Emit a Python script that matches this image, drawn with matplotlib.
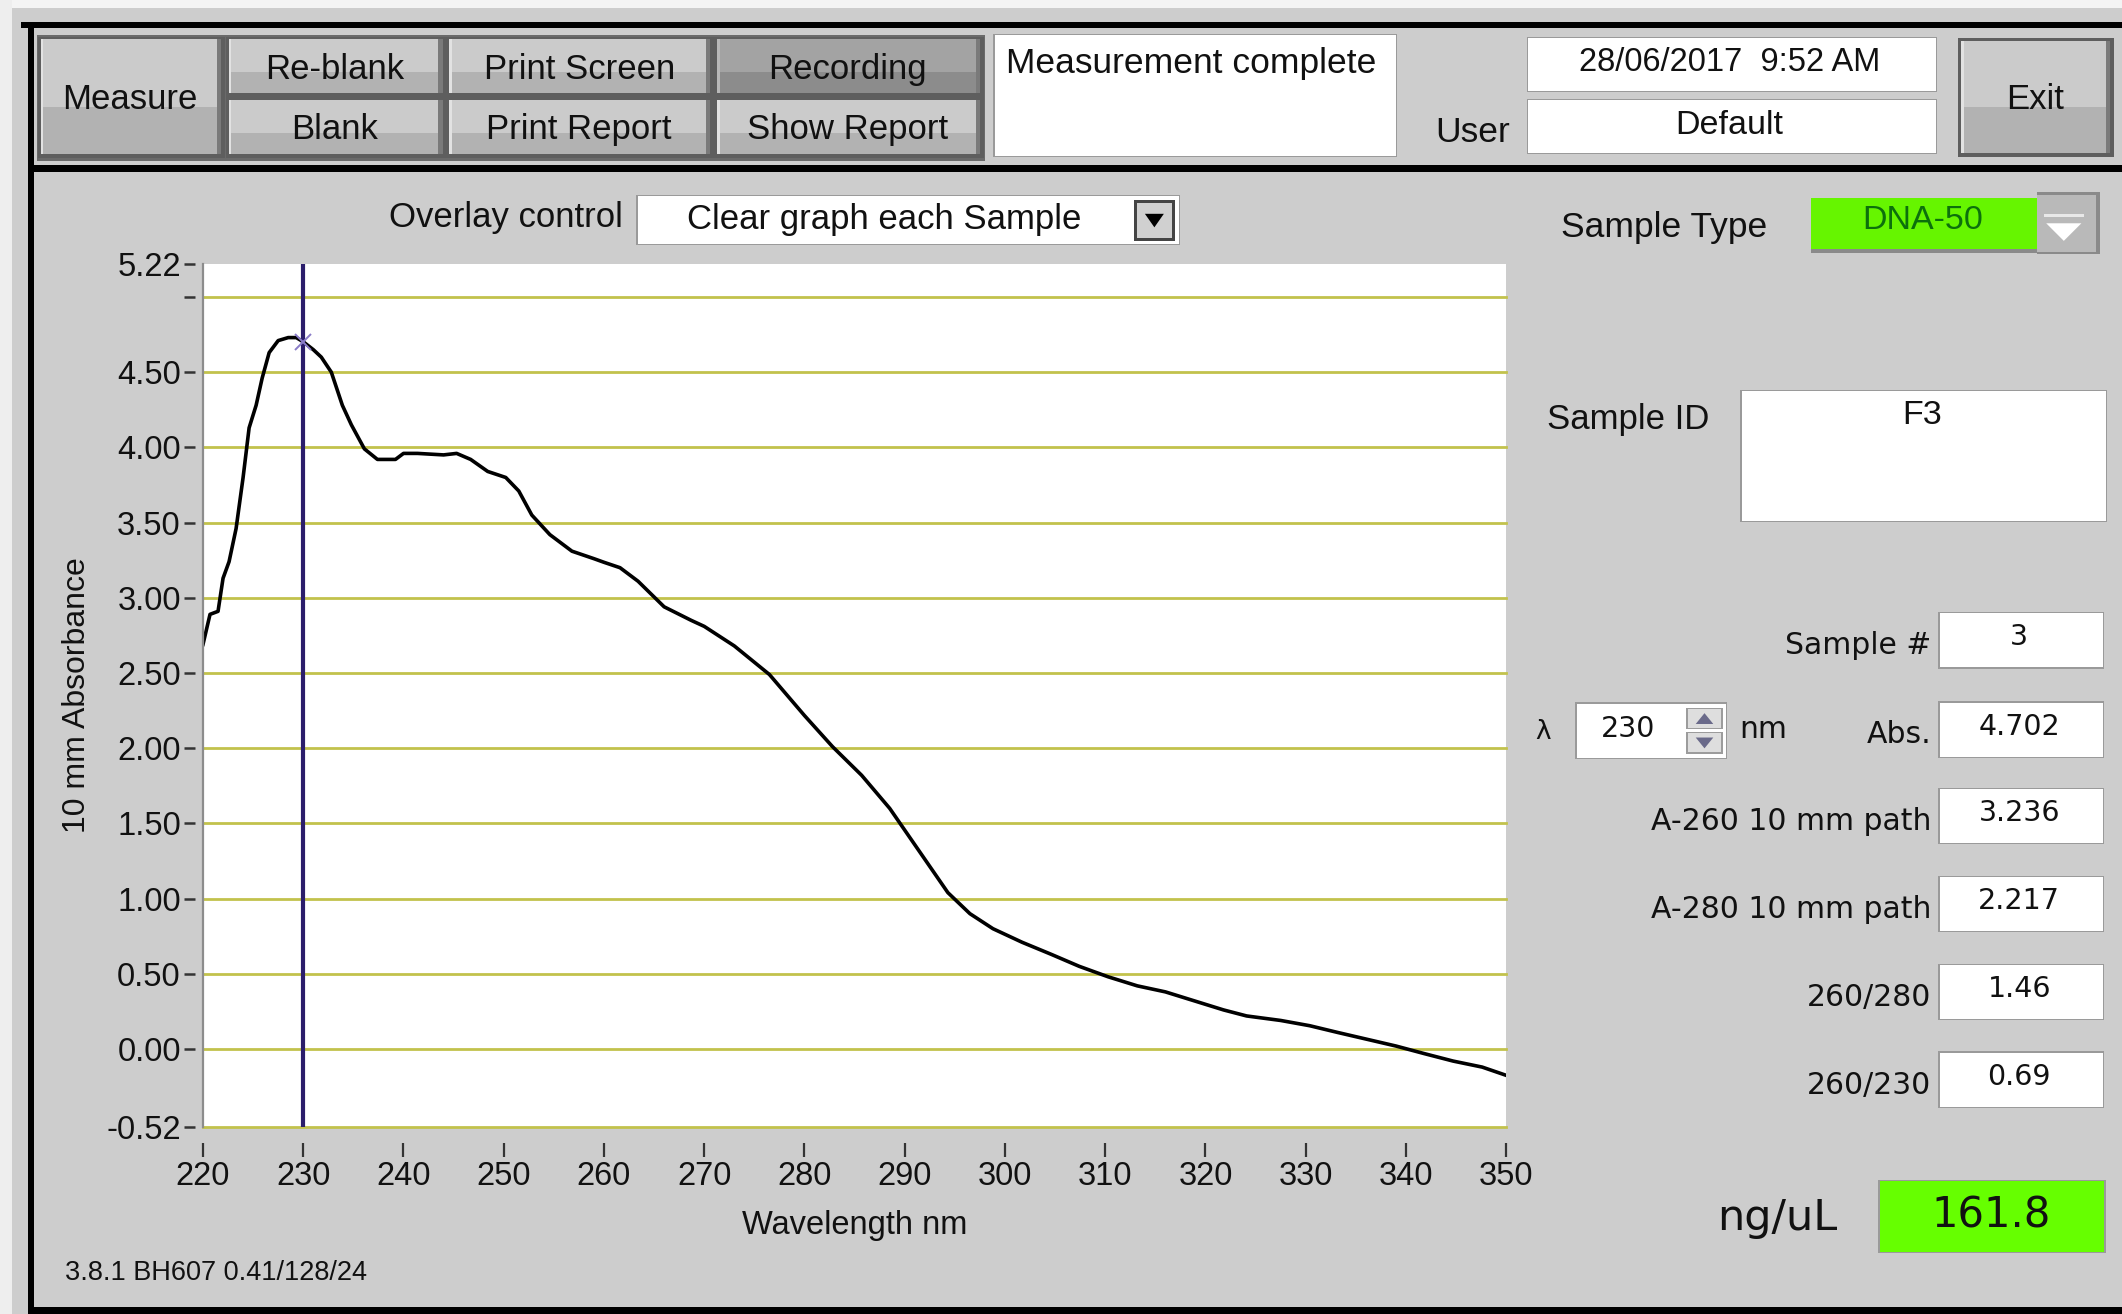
import matplotlib
matplotlib.use("Agg")
import matplotlib.pyplot as plt
from matplotlib.patches import Rectangle, Polygon

# ---------------- data ----------------
wavelength_nm = [220, 220.7, 221.5, 222, 222.6, 223.3, 224, 224.6, 225.3, 225.9,
                 226.6, 227.5, 228.5, 229.3, 230, 231, 231.8, 232.8, 233.9, 234.8,
                 236.1, 237.4, 239.2, 240, 241.4, 244, 245.3, 246.7, 248.4, 250.2,
                 251.5, 252.8, 254.6, 256.8, 259, 260, 261.6, 263.4, 266, 268.7,
                 270, 273, 276.5, 280, 282.8, 285.7, 288.5, 291.4, 294.3, 296.5,
                 298.8, 301.7, 304.6, 307.4, 310.3, 313.2, 316, 318.9, 321.8, 324.1,
                 327.5, 330.4, 333.2, 336.1, 339, 341.8, 344.7, 347.6, 350]
absorbance_10mm = [2.69, 2.89, 2.91, 3.13, 3.24, 3.46, 3.80, 4.13, 4.28, 4.46,
                   4.63, 4.71, 4.73, 4.73, 4.702, 4.65, 4.60, 4.50, 4.28, 4.15,
                   3.99, 3.92, 3.92, 3.96, 3.96, 3.95, 3.96, 3.92, 3.84, 3.80,
                   3.71, 3.55, 3.42, 3.31, 3.26, 3.236, 3.20, 3.11, 2.94, 2.85,
                   2.81, 2.68, 2.49, 2.217, 2.01, 1.82, 1.60, 1.32, 1.04, 0.90,
                   0.80, 0.71, 0.63, 0.55, 0.48, 0.42, 0.38, 0.32, 0.26, 0.22,
                   0.19, 0.155, 0.11, 0.065, 0.02, -0.03, -0.08, -0.12, -0.175]

x_ticks = [220, 230, 240, 250, 260, 270, 280, 290, 300, 310, 320, 330, 340, 350]
y_ticks = [5.22, 5.00, 4.50, 4.00, 3.50, 3.00, 2.50, 2.00, 1.50, 1.00, 0.50, 0.00, -0.52]
y_tick_labels = ["5.22", "", "4.50", "4.00", "3.50", "3.00", "2.50", "2.00",
                 "1.50", "1.00", "0.50", "0.00", "-0.52"]
x_label = "Wavelength nm"
y_label = "10 mm Absorbance"

cursor_wavelength = 230
cursor_absorbance = 4.702

toolbar_top = ["Re-blank", "Print Screen", "Recording"]
toolbar_bottom = ["Blank", "Print Report", "Show Report"]
status_text = "Measurement complete"
date_text = "28/06/2017  9:52 AM"
user_text = "Default"
overlay_option = "Clear graph each Sample"
sample_type = "DNA-50"
sample_id = "F3"
result_labels = ["Sample #", "Abs.", "A-260 10 mm path", "A-280 10 mm path", "260/280", "260/230"]
result_values = ["3", "4.702", "3.236", "2.217", "1.46", "0.69"]
lambda_value = "230"
conc_unit = "ng/uL"
conc_value = "161.8"
version_text = "3.8.1 BH607 0.41/128/24"

# ---------------- figure ----------------
W, H = 1568.0, 971.0          # layout reference grid
FA = ["Liberation Sans", "DejaVu Sans"]
FV = ["DejaVu Sans"]
BG = "#cdcdcd"

fig = plt.figure(figsize=(21.22, 13.14), dpi=100)
fig.patch.set_facecolor(BG)
ui = fig.add_axes([0, 0, 1, 1], zorder=0)
ui.set_xlim(0, W)
ui.set_ylim(H, 0)
ui.axis("off")


def rect(x0, y0, x1, y1, fc, ec="none", lw=0, z=1):
    ui.add_patch(Rectangle((x0, y0), x1 - x0, y1 - y0, fc=fc, ec=ec, lw=lw, zorder=z))


def txt(x, y, s, size, ha="center", fam=FA, color="#111111", z=6, **kw):
    ui.text(x, y, s, fontsize=size, ha=ha, va="center", family=fam, color=color, zorder=z, **kw)


def button(x0, y0, x1, y1, label, dark=False):
    rect(x0, y0, x1, y1, "#5e5e5e", z=2)
    top = "#a3a3a3" if dark else "#cbcbcb"
    bot = "#8c8c8c" if dark else "#b2b2b2"
    mid = y0 + (y1 - y0) * 0.58
    rect(x0 + 2, y0 + 2, x1 - 4, mid, top, z=3)
    rect(x0 + 2, mid, x1 - 4, y1 - 3, bot, z=3)
    rect(x0 + 2, y0 + 2, x0 + 4, y1 - 3, "#e2e2e2" if not dark else "#b8b8b8", z=4)
    rect(x1 - 6, y0 + 2, x1 - 3, y1 - 3, "#7a7a7a", z=4)
    txt((x0 + x1) / 2 - 1, (y0 + y1) / 2 + 1.5, label, 25)


def white_box(x0, y0, x1, y1, z=2):
    rect(x0, y0, x1, y1, "#9a9a9a", z=z)
    rect(x0 + 1.2, y0 + 1.2, x1 - 0.8, y1 - 0.8, "white", z=z + 0.1)


# window frame
rect(0, 0, W, 6, "#f4f4f4", z=1)
rect(0, 0, 9, H, "#eeeeee", z=1)
rect(15.5, 16, W, 20.5, "black", z=5)
rect(20.5, 16, 25, H, "black", z=5)
rect(20.5, 122, W, 127, "black", z=5)
rect(20.5, 966, W, H, "black", z=5)

# toolbar
rect(27, 26, 728, 119, "#6a6a6a", z=1.5)
button(28, 27, 166, 117, "Measure")
button(167, 27, 330, 72, toolbar_top[0])
button(167, 72, 330, 117, toolbar_bottom[0])
button(330, 27, 528, 72, toolbar_top[1])
button(330, 72, 528, 117, toolbar_bottom[1])
button(528, 27, 727, 72, toolbar_top[2], dark=True)
button(528, 72, 727, 117, toolbar_bottom[2])

white_box(734, 25, 1032, 116)
txt(743, 47, status_text, 25.5, ha="left")
txt(1088, 98, "User", 25.5)
white_box(1128, 27, 1431, 68)
txt(1278, 46, date_text, 23.5)
white_box(1128, 73, 1431, 114)
txt(1278, 93, user_text, 24.5)
button(1447, 28, 1562, 116, "Exit")

# overlay control
txt(460, 161, "Overlay control", 25, ha="right")
white_box(470, 144, 872, 181)
txt(653, 162, overlay_option, 25)
rect(838, 148, 868, 178, "#444444", z=3)
rect(840, 150, 866, 176, "#d0d0d0", z=3.1)
ui.add_patch(Polygon([[846, 158], [860, 158], [853, 168]], closed=True, fc="black", ec="none", zorder=4))

# sample type
txt(1230, 168, "Sample Type", 25.5)
rect(1338, 146, 1507, 187, "#8a8a8a", z=2)
rect(1338, 146, 1505, 184, "#66f500", z=3)
txt(1421, 163, sample_type, 24.5, color="#0c700c")
rect(1505, 142, 1552, 188, "#8a8a8a", z=2)
rect(1505, 144, 1549, 186, "#b9b9b9", z=3)
rect(1510, 158, 1540, 160, "#e8e8e8", z=4)
ui.add_patch(Polygon([[1512, 165], [1538, 165], [1525, 178]], closed=True, fc="white", ec="none", zorder=4))

# sample id
txt(1203, 310, "Sample ID", 25)
white_box(1286, 288, 1557, 386)
txt(1420, 307, sample_id, 24.5)

# results column
label_y = [474, 540, 604, 669, 734, 799]
for lab, val, yy in zip(result_labels, result_values, label_y):
    white_box(1432, yy - 22, 1555, yy + 20)
    txt(1427, yy + 3, lab, 21.5, ha="right", fam=FV)
    txt(1492, yy - 3, val, 20.5, fam=FV)

# lambda box
txt(1140, 541, "\u03bb", 19, fam=FV)
white_box(1164, 519, 1276, 561)
txt(1203, 539, lambda_value, 20.5, fam=FV)
for (a, b, up) in [(523, 539, True), (541, 557, False)]:
    rect(1246, a, 1273, b, "#9c9c9c", z=3)
    rect(1247, a + 1, 1272, b - 1, "#dedede", z=3.1)
    if up:
        tri = [[1253, b - 4], [1266, b - 4], [1259.5, a + 4]]
    else:
        tri = [[1253, a + 4], [1266, a + 4], [1259.5, b - 4]]
    ui.add_patch(Polygon(tri, closed=True, fc="#6a6a8a", ec="none", zorder=4))
txt(1303, 539, "nm", 21.5, fam=FV)

# concentration
txt(1313, 900, conc_unit, 31, fam=FV)
rect(1388, 872, 1556, 926, "#9a9a9a", z=2)
rect(1389, 873, 1555, 925, "#66ff00", z=3)
txt(1471, 898, conc_value, 30, fam=FV)

txt(48, 941, version_text, 19.5, ha="left")

# ---------------- spectrum plot ----------------
ax = fig.add_axes([150 / W, 1 - 833 / H, 963 / W, 638 / H], zorder=2)
ax.set_facecolor("white")
ax.set_xlim(x_ticks[0], x_ticks[-1])
ax.set_ylim(y_ticks[-1], y_ticks[0])
for s in ["top", "right", "bottom", "left"]:
    ax.spines[s].set_visible(False)
ax.spines["bottom"].set_position(("outward", 11))
ax.spines["left"].set_position(("outward", 6))
ax.plot([0, 0], [0, 1], transform=ax.transAxes, color="#8c8c8c", lw=1.6, clip_on=False, zorder=6)

ax.set_xticks(x_ticks)
ax.set_xticklabels([str(v) for v in x_ticks])
ax.set_yticks(y_ticks)
ax.set_yticklabels(y_tick_labels)
ax.tick_params(axis="x", direction="out", length=10, width=1.6, color="#333333", pad=3,
               labelsize=23.5, labelcolor="#111111")
ax.tick_params(axis="y", direction="out", length=8, width=1.8, color="#333333", pad=2,
               labelsize=23.5, labelcolor="#111111")
for lab in ax.get_xticklabels() + ax.get_yticklabels():
    lab.set_family(FA)

ax.yaxis.grid(True, color="#c2c24c", lw=2.0, zorder=1)
ax.set_axisbelow(True)
ax.get_ygridlines()[0].set_visible(False)
for gl in ax.get_ygridlines():
    gl.set_clip_on(False)

ax.set_xlabel(x_label, fontsize=23.5, family=FA, color="#111111", labelpad=13)
ax.set_ylabel(y_label, fontsize=23, family=FA, color="#111111", labelpad=10)

ax.plot(wavelength_nm, absorbance_10mm, color="black", lw=2.6, zorder=4, solid_joinstyle="round")
ax.axvline(cursor_wavelength, color="#2b1d6b", lw=3.0, zorder=5)
ax.plot([cursor_wavelength], [cursor_absorbance], marker="x", ms=11, mew=1.4,
        color="#8a7cc8", zorder=6, linestyle="none")

fig.savefig("out.png", dpi=100, facecolor=fig.get_facecolor())
